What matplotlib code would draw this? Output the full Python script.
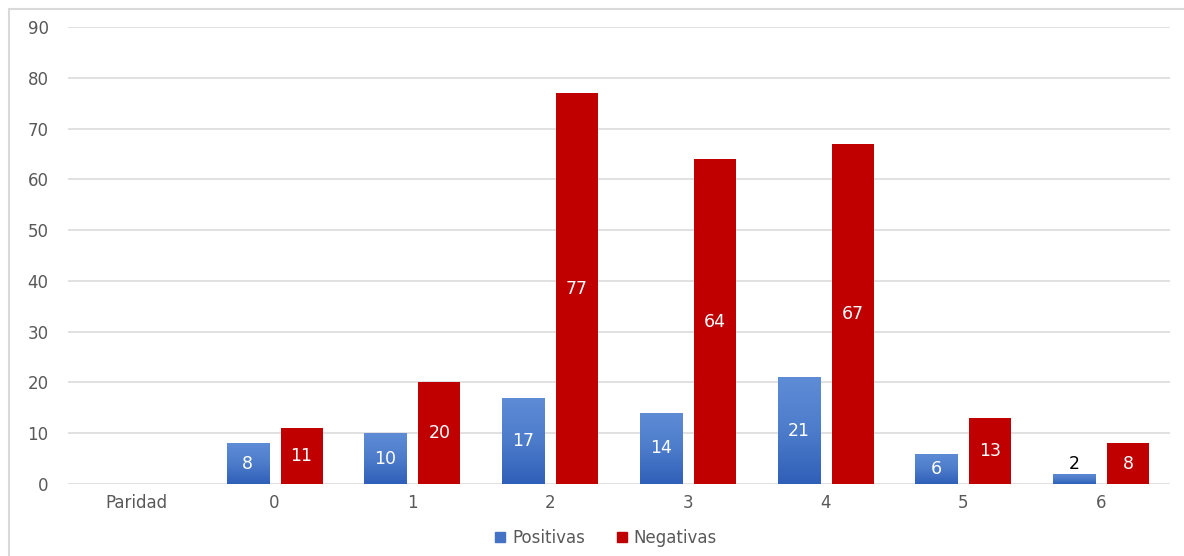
import numpy as np
import matplotlib
matplotlib.use("Agg")
import matplotlib.pyplot as plt
from matplotlib.patches import Rectangle
from matplotlib.colors import LinearSegmentedColormap

categories = ["Paridad", "0", "1", "2", "3", "4", "5", "6"]
positivas = [None, 8, 10, 17, 14, 21, 6, 2]
negativas = [None, 11, 20, 77, 64, 67, 13, 8]
series_names = ["Positivas", "Negativas"]

plt.rcParams["font.family"] = ["DejaVu Sans"]

fig = plt.figure(figsize=(11.84, 5.56), dpi=100)
ax = fig.add_axes([68 / 1184, 72 / 556, 1102 / 1184, 457 / 556])

# outer frame of the chart area
fig.patches.append(Rectangle((9 / 1184, -0.1), 1.2, (556 - 9) / 556 + 0.1,
                             transform=fig.transFigure, fill=False,
                             edgecolor="#d9d9d9", linewidth=1.5))

x = np.arange(len(categories))
width = 0.305
offset = 0.196
red = "#C00000"
label_size = 12.5

grad = np.linspace(0, 1, 256).reshape(-1, 1)
blue_cmap = LinearSegmentedColormap.from_list("bl", ["#2F5FB8", "#4D7CCB", "#5E8CD6"])

for i, (p, n) in enumerate(zip(positivas, negativas)):
    if p is not None:
        xb = x[i] - offset
        bar = ax.bar(xb, p, width, color="#4472C4", zorder=2)[0]
        im = ax.imshow(grad, extent=(xb - width / 2, xb + width / 2, 0, p),
                       origin="lower", cmap=blue_cmap, aspect="auto", zorder=3)
        im.set_clip_path(bar)
        if p >= 5:
            ax.text(xb, p / 2, str(p), ha="center", va="center",
                    color="white", fontsize=label_size, zorder=5)
        else:
            ax.text(xb, p + 0.2, str(p), ha="center", va="bottom",
                    color="black", fontsize=label_size, zorder=5)
    if n is not None:
        xr = x[i] + offset
        ax.bar(xr, n, width, color=red, zorder=3)
        ax.text(xr, n / 2, str(n), ha="center", va="center",
                color="white", fontsize=label_size, zorder=5)

ax.set_xlim(-0.5, len(categories) - 0.5)
ax.set_ylim(0, 90)
ax.set_yticks(range(0, 91, 10))
ax.set_xticks(x)
ax.set_xticklabels(categories)
ax.yaxis.grid(True, color="#d9d9d9", linewidth=1.1, zorder=0)
ax.set_axisbelow(True)
for s in ax.spines.values():
    s.set_visible(False)
ax.tick_params(axis="both", length=0, labelsize=12, labelcolor="#595959")
ax.tick_params(axis="y", pad=14)
ax.tick_params(axis="x", pad=7)

handles = [Rectangle((0, 0), 1, 1, color="#4472C4"), Rectangle((0, 0), 1, 1, color=red)]
leg = fig.legend(handles, series_names, loc="center", bbox_to_anchor=(606 / 1184, 1 - 538 / 556),
                 ncol=2, frameon=False, fontsize=12, handlelength=0.6, handleheight=0.6,
                 handletextpad=0.4, columnspacing=1.9)
for t in leg.get_texts():
    t.set_color("#595959")

fig.savefig("out.png", dpi=100, facecolor="white")
